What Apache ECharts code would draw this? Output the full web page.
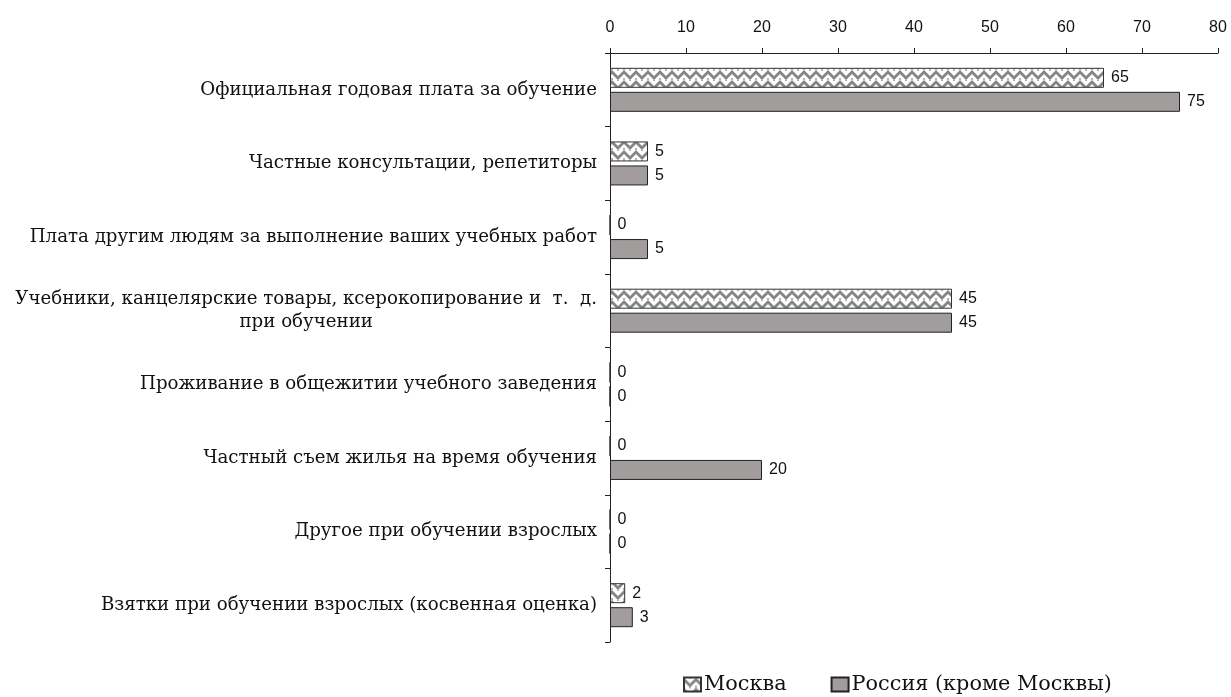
<!DOCTYPE html>
<html><head><meta charset="utf-8">
<script src="https://cdn.jsdelivr.net/npm/echarts@6/dist/echarts.min.js"></script>
<style>html,body{margin:0;padding:0;background:#fff}#c{width:1231px;height:697px}</style>
</head><body><div id="c"></div>
<script>
const categories = [
  'Официальная годовая плата за обучение',
  'Частные консультации, репетиторы',
  'Плата другим людям за выполнение ваших учебных работ',
  'Учебники, канцелярские товары, ксерокопирование и  т.  д.\nпри обучении',
  'Проживание в общежитии учебного заведения',
  'Частный съем жилья на время обучения',
  'Другое при обучении взрослых',
  'Взятки при обучении взрослых (косвенная оценка)'
];
const seriesNames = ['Москва', 'Россия (кроме Москвы)'];
const moscow = [65, 5, 0, 45, 0, 0, 0, 2];
const russia = [75, 5, 5, 45, 0, 20, 0, 3];
const axisMin = 0, axisMax = 80, axisStep = 10;

function makePattern() {
  const c = document.createElement('canvas');
  c.width = 12; c.height = 10;
  const g = c.getContext('2d');
  g.fillStyle = '#ffffff'; g.fillRect(0, 0, 12, 10);
  g.strokeStyle = '#858585'; g.lineWidth = 2.8; g.lineJoin = 'miter';
  const row = function (y) {
    g.beginPath();
    g.moveTo(-6, y + 6); g.lineTo(0, y); g.lineTo(6, y + 6); g.lineTo(12, y); g.lineTo(18, y + 6);
    g.stroke();
  };
  row(2); row(-8); row(12);
  g.fillStyle = '#b0b0b0';
  g.fillRect(5, 0, 2, 1); g.fillRect(0, 8, 1, 2); g.fillRect(11, 8, 1, 2);
  return c;
}
const pattern = { image: makePattern(), repeat: 'repeat' };

const serif = 'DejaVu Serif';
const sans = 'Liberation Sans';
const catSize = 18.2;

const chart = echarts.init(document.getElementById('c'), null, { renderer: 'canvas' });
const labelCommon = { show: true, position: 'right', distance: 7, fontFamily: sans, fontSize: 16, color: '#111' };
chart.setOption({
  animation: false,
  backgroundColor: '#fff',
  grid: { left: 610, right: 13, top: 53, bottom: 55, containLabel: false },
  xAxis: {
    type: 'value', position: 'top', min: axisMin, max: axisMax, interval: axisStep,
    axisLine: { show: true, lineStyle: { color: '#222', width: 1 } },
    axisTick: { show: true, length: 5, lineStyle: { color: '#222' } },
    splitLine: { show: false },
    axisLabel: { fontFamily: sans, fontSize: 16, color: '#111', margin: 17 }
  },
  yAxis: {
    type: 'category', inverse: true, data: categories,
    axisLine: { show: true, lineStyle: { color: '#222', width: 1 } },
    axisTick: { show: true, length: 5, alignWithLabel: false, lineStyle: { color: '#222' } },
    axisLabel: {
      fontFamily: serif, fontSize: catSize, color: '#111', margin: 13, lineHeight: 23,
      formatter: function (v) {
        const parts = v.split('\n');
        if (parts.length === 1) return '{a|' + v + '}';
        return '{a|' + parts[0] + '}\n{c|' + parts[1] + '}';
      },
      rich: {
        a: { fontFamily: serif, fontSize: catSize, color: '#111', lineHeight: 23 },
        c: { fontFamily: serif, fontSize: catSize, color: '#111', lineHeight: 23, align: 'center' }
      }
    }
  },
  legend: {
    left: 678, top: 669, itemWidth: 17, itemHeight: 14, itemGap: 44,
    icon: 'rect',
    textStyle: { fontFamily: serif, fontSize: 20.8, color: '#111', padding: [0, 0, 0, -2] },
    data: seriesNames
  },
  series: [
    {
      name: seriesNames[0], type: 'bar', data: moscow, barWidth: 20, barGap: '20%',
      itemStyle: { color: pattern, borderColor: '#333', borderWidth: 1 },
      label: labelCommon
    },
    {
      name: seriesNames[1], type: 'bar', data: russia, barWidth: 20,
      itemStyle: { color: '#a19d9d', borderColor: '#222', borderWidth: 1 },
      label: labelCommon
    }
  ]
});
</script></body></html>
